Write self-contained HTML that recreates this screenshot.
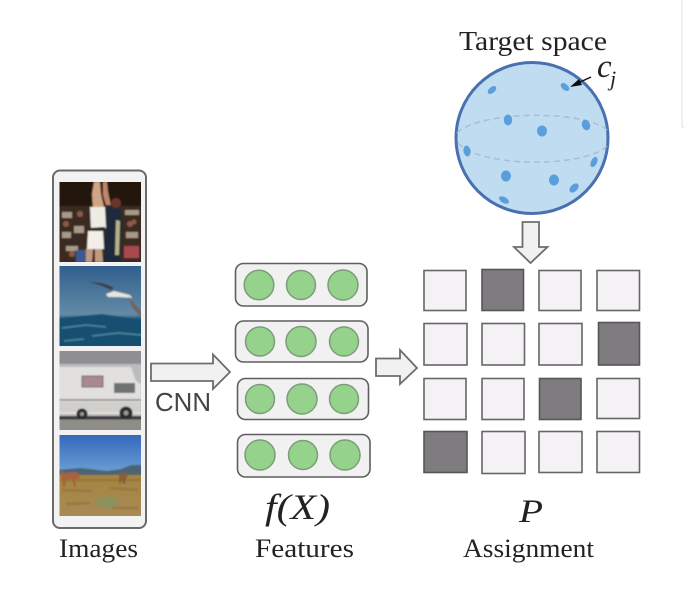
<!DOCTYPE html>
<html><head><meta charset="utf-8"><style>
html,body{margin:0;padding:0;background:#fff;width:684px;height:592px;overflow:hidden}
svg{display:block}
text{font-family:"Liberation Serif",serif;fill:#222}
</style></head><body>
<svg width="684" height="592" viewBox="0 0 684 592" xmlns="http://www.w3.org/2000/svg">
<defs>
<linearGradient id="sea" x1="0" y1="0" x2="0" y2="1"><stop offset="0" stop-color="#2c5b8b"/><stop offset="0.6" stop-color="#648ba6"/><stop offset="0.64" stop-color="#1f5c7c"/><stop offset="1" stop-color="#114b69"/></linearGradient>
<linearGradient id="sky" x1="0" y1="0" x2="0" y2="1"><stop offset="0" stop-color="#2f62b8"/><stop offset="1" stop-color="#6fa2d6"/></linearGradient>
<linearGradient id="field" x1="0" y1="0" x2="0" y2="1"><stop offset="0" stop-color="#a5853f"/><stop offset="1" stop-color="#a88a58"/></linearGradient>
<filter id="b1" x="-5%" y="-5%" width="110%" height="110%"><feGaussianBlur stdDeviation="0.8"/></filter>
<filter id="b2" x="-5%" y="-5%" width="110%" height="110%"><feGaussianBlur stdDeviation="0.35"/></filter>
<clipPath id="p1"><rect x="59.500" y="182" width="81.500" height="80"/></clipPath>
<clipPath id="p2"><rect x="59.500" y="266" width="81.500" height="80"/></clipPath>
<clipPath id="p3"><rect x="59.500" y="351" width="81.500" height="79"/></clipPath>
<clipPath id="p4"><rect x="59.500" y="435" width="81.500" height="81"/></clipPath>
</defs>
<rect width="684" height="592" fill="#fff"/>
<path d="M682 0V127H684" fill="none" stroke="#e2e2e2" stroke-width="1"/>

<g filter="url(#b2)">
<!-- panel -->
<rect x="53" y="170.500" width="93" height="357.500" rx="7" fill="#f3f2f2" stroke="#6a6a6a" stroke-width="2"/>
</g>

<!-- photo 1 -->
<g clip-path="url(#p1)"><g filter="url(#b1)">
<rect x="55" y="178" width="90" height="88" fill="#22160f"/>
<rect x="55" y="206" width="90" height="60" fill="#3a2c24"/>
<g fill="#a89a88"><rect x="62" y="212" width="10" height="6"/><rect x="74" y="226" width="10" height="7"/><rect x="62" y="232" width="9" height="6"/><rect x="125" y="210" width="14" height="5"/><rect x="126" y="232" width="12" height="6"/><rect x="66" y="246" width="12" height="5"/></g>
<g fill="#8b5a44"><circle cx="80" cy="214" r="3"/><circle cx="66" cy="224" r="3"/><circle cx="130" cy="224" r="3"/><circle cx="72" cy="254" r="3"/><circle cx="134" cy="222" r="2.500"/></g>
<rect x="124" y="246" width="15" height="12" fill="#a84a50"/>
<rect x="76" y="250" width="14" height="12" fill="#3c5a90"/>
<path d="M94 182h6l1 12 3 13-4 4-7-3-1-14z" fill="#d2a486"/>
<path d="M103 182h4l1 10 3 14-4 3-4-14z" fill="#c0866a"/>
<path d="M90 207l15 0 1 21-15 2z" fill="#efece6"/>
<path d="M89 228l16-1v3l-16 1z" fill="#222"/>
<path d="M88 231h15l1 18-17 0z" fill="#f2efe9"/>
<path d="M86 249h7l-1 13h-6zM95 249h7l1 13h-8z" fill="#c39a7d"/>
<path d="M106 205l14 0 2 18-2 39h-17l3-30z" fill="#1e2b3a"/>
<path d="M116 220l4 1-1 34-4 0z" fill="#b7b48a"/>
<circle cx="116" cy="203" r="5" fill="#6b3626"/>
</g></g>

<!-- photo 2 -->
<g clip-path="url(#p2)"><g filter="url(#b1)">
<rect x="55" y="262" width="90" height="88" fill="url(#sea)"/>
<path d="M55 319l25-3 22-2 20 3 23 4v30H55z" fill="#15506f"/>
<path d="M62 328l24-3 20 2M92 336l26-3 24 2M64 341l20-2" stroke="#4f889f" stroke-width="1.500" fill="none"/>
<path d="M89 282c10 0 18 2 25 6l-3 2c-8-4-14-6-22-8z" fill="#3c3c3c"/>
<path d="M106 294l8-3 16 4 2 3-14-1-10 0z" fill="#e8e4de"/>
<path d="M128 296l13 15v7l-9-11z" fill="#766358"/>
</g></g>

<!-- photo 3 -->
<g clip-path="url(#p3)"><g filter="url(#b1)">
<rect x="55" y="347" width="90" height="87" fill="#bcbcbd"/>
<rect x="55" y="347" width="90" height="17" fill="#8f8f92"/>
<path d="M55 367h76l5 14 5 3v30H55z" fill="#e1e0de"/>
<rect x="55" y="399" width="86" height="2" fill="#9a9995"/>
<rect x="55" y="402" width="86" height="10" fill="#d0cfca"/>
<rect x="82" y="376" width="21" height="11" fill="#a9888f" stroke="#666" stroke-width="1"/>
<rect x="114" y="383" width="21" height="10" fill="#6d7272"/>
<rect x="55" y="416" width="90" height="3.500" fill="#3a3b3e"/>
<rect x="55" y="419.500" width="90" height="14" fill="#8f8d88"/>
<circle cx="82" cy="414" r="5.500" fill="#2a2a2c"/><circle cx="82" cy="414" r="2" fill="#999"/>
<circle cx="126" cy="413" r="6.500" fill="#2a2a2c"/><circle cx="126" cy="413" r="2.500" fill="#999"/>
</g></g>

<!-- photo 4 -->
<g clip-path="url(#p4)"><g filter="url(#b1)">
<rect x="55" y="431" width="90" height="44" fill="url(#sky)"/>
<path d="M55 470l26-2 26 3 14-2 10-4 14 0v15H55z" fill="#4e6472"/>
<rect x="55" y="475" width="90" height="45" fill="url(#field)"/>
<path d="M60 480h80M62 490l30 1M110 488l28 2M66 504l24-1M112 508l26 0" stroke="#8d6c34" stroke-width="2.500" fill="none" opacity=".55"/>
<path d="M92 503l15-7 14 4-10 9z" fill="#7f9460" opacity=".75"/>
<path d="M61 470l3 3 12-1 4 3-2 4-3 0 1 8-2 0-2-8-6 0-1 8-2 0-2-12z" fill="#a8623c"/>
<path d="M119 474l6-1 3 2-2 4-1 5-2 0-1-4-2 4-1 0 0-6z" fill="#8c5b3a"/>
</g></g>

<g filter="url(#b2)">
<!-- CNN arrow -->
<path d="M151 363.500H213V354.500L230 372L213 389V381H151Z" fill="#f2f1f2" stroke="#6d6d6d" stroke-width="1.800"/>

<!-- features -->
<g fill="#f2f1f1" stroke="#5e5e5e" stroke-width="1.600">
<rect x="235.500" y="263.500" width="131.500" height="42.500" rx="8"/>
<rect x="235.500" y="321" width="132.500" height="41" rx="8"/>
<rect x="237.500" y="378.500" width="131" height="41" rx="8"/>
<rect x="237.500" y="434.500" width="132.500" height="42.500" rx="8"/>
</g>
<g fill="#95d38d" stroke="#7d9c7a" stroke-width="1.500">
<circle cx="259" cy="285" r="14.800"/><circle cx="301" cy="285" r="14.500"/><circle cx="343" cy="285" r="15"/>
<circle cx="260" cy="341.500" r="14.500"/><circle cx="301" cy="341.500" r="15"/><circle cx="344" cy="341.500" r="14.500"/>
<circle cx="260" cy="399" r="14.500"/><circle cx="302" cy="399" r="15"/><circle cx="344" cy="399" r="14.500"/>
<circle cx="260" cy="455" r="15"/><circle cx="303" cy="455" r="14.500"/><circle cx="345" cy="455" r="15"/>
</g>

<!-- second arrow -->
<path d="M376 358.500H400V350L417 368L400 384V376H376Z" fill="#f2f1f2" stroke="#6d6d6d" stroke-width="1.800"/>

<!-- grid -->
<g fill="#f4f2f4" stroke="#666" stroke-width="1.600">
<rect x="424" y="270.500" width="42" height="40"/>
<rect x="539" y="270.500" width="42" height="40"/>
<rect x="597" y="270.500" width="42.500" height="40"/>
<rect x="424" y="323.500" width="43" height="41.500"/>
<rect x="482" y="323.500" width="42.500" height="41.500"/>
<rect x="539" y="323.500" width="43" height="41.500"/>
<rect x="424" y="378.500" width="42" height="41"/>
<rect x="482" y="378.500" width="42" height="41"/>
<rect x="597" y="378.500" width="42.500" height="40"/>
<rect x="482" y="431.500" width="43" height="42"/>
<rect x="539" y="431.500" width="43" height="41"/>
<rect x="597" y="431.500" width="42.500" height="41"/>
</g>
<g fill="#7e7b7e" stroke="#585658" stroke-width="1.600">
<rect x="482" y="269.500" width="41.500" height="41"/>
<rect x="598.500" y="322.500" width="41" height="42.500"/>
<rect x="539.500" y="378.500" width="41.500" height="41"/>
<rect x="424" y="431.500" width="43" height="41"/>
</g>

<!-- sphere -->
<ellipse cx="532" cy="138" rx="76" ry="75.500" fill="#bfdcf1" stroke="#4a6fb0" stroke-width="3"/>
<path d="M457 133C480 110 585 110 607 130" fill="none" stroke="#a9bed2" stroke-width="1.500" stroke-dasharray="6 4"/>
<path d="M458 143C480 168 585 168 607 146" fill="none" stroke="#a9bed2" stroke-width="1.500" stroke-dasharray="6 4"/>
<g fill="#5a9edb">
<ellipse cx="492" cy="90" rx="5" ry="3" transform="rotate(-40 492 90)"/>
<ellipse cx="565" cy="87" rx="5" ry="3" transform="rotate(40 565 87)"/>
<ellipse cx="508" cy="120" rx="4.200" ry="5.500"/>
<ellipse cx="542" cy="131" rx="5" ry="5.500"/>
<ellipse cx="586" cy="125" rx="4" ry="5.500" transform="rotate(-20 586 125)"/>
<ellipse cx="467" cy="151" rx="3.500" ry="5.500" transform="rotate(-10 467 151)"/>
<ellipse cx="594" cy="162" rx="3" ry="5.500" transform="rotate(25 594 162)"/>
<ellipse cx="506" cy="176" rx="5" ry="5.500"/>
<ellipse cx="554" cy="180" rx="5" ry="5.500"/>
<ellipse cx="574" cy="188" rx="3.500" ry="5.500" transform="rotate(45 574 188)"/>
<ellipse cx="504" cy="200" rx="5.500" ry="3" transform="rotate(30 504 200)"/>
</g>
<path d="M591 77L578 83" stroke="#111" stroke-width="1.500"/>
<path d="M570 87L579 79L582 85Z" fill="#111"/>

<!-- down arrow -->
<path d="M522.500 222H539V247H547.500L530.500 263L514 247H522.500Z" fill="#f2f1f2" stroke="#6d6d6d" stroke-width="1.800"/>

<!-- labels -->
<text x="155" y="411" style='font-family:"Liberation Sans",sans-serif;font-size:25.500px;fill:#444' textLength="56" lengthAdjust="spacingAndGlyphs">CNN</text>
<text x="459" y="50" font-size="27" textLength="148" lengthAdjust="spacingAndGlyphs">Target space</text>
<text x="597" y="77" font-size="33" font-style="italic">c</text>
<text x="610" y="86" font-size="22" font-style="italic">j</text>
<text x="265" y="519" font-size="36" font-style="italic" textLength="65" lengthAdjust="spacingAndGlyphs">f(X)</text>
<text x="519" y="522" font-size="33" font-style="italic" textLength="24" lengthAdjust="spacingAndGlyphs">P</text>
<text x="59" y="557" font-size="26" textLength="79" lengthAdjust="spacingAndGlyphs">Images</text>
<text x="255" y="557" font-size="26" textLength="99" lengthAdjust="spacingAndGlyphs">Features</text>
<text x="463" y="557" font-size="26" textLength="131" lengthAdjust="spacingAndGlyphs">Assignment</text>
</g>
</svg>
</body></html>
